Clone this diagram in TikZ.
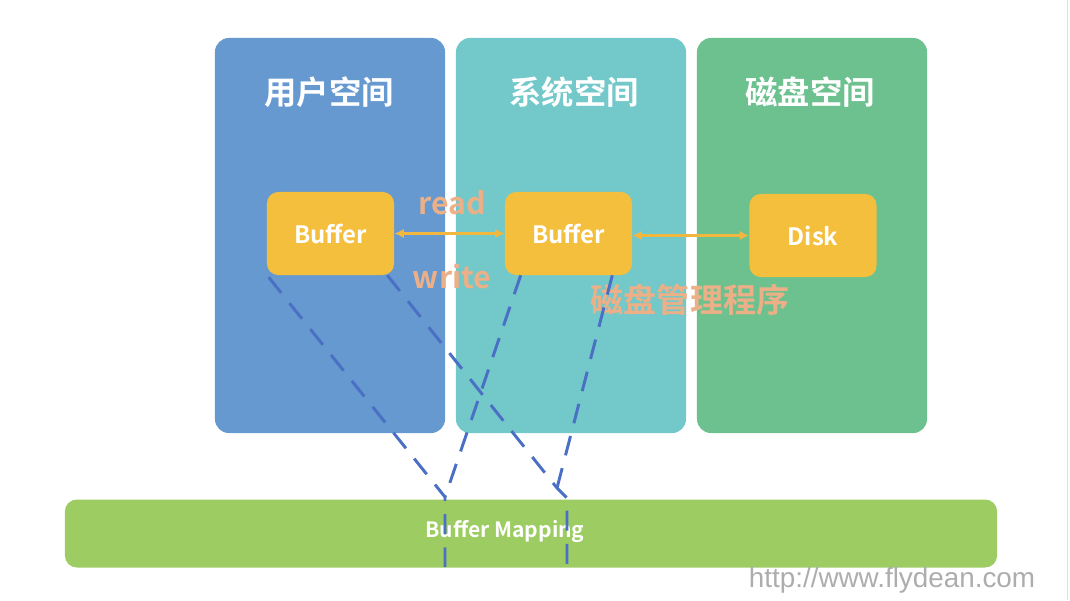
\documentclass[tikz,border=0pt]{standalone}
\usepackage{fontspec}
\usepackage{tikz}
\usetikzlibrary{arrows.meta, positioning, calc}
\newfontfamily\cjk{Noto Sans CJK SC}
\newfontfamily\cjkbold{Noto Sans CJK SC Bold}
\newfontfamily\webfont{Liberation Sans}
\definecolor{userblue}{HTML}{6699D0}
\definecolor{systeal}{HTML}{73C8CA}
\definecolor{diskgreen}{HTML}{6CC18E}
\definecolor{bufyellow}{HTML}{F5BF3E}
\definecolor{arrowyellow}{HTML}{F2B73F}
\definecolor{opsalmon}{HTML}{EBB087}
\definecolor{mapgreen}{HTML}{9CCC62}
\definecolor{dashblue}{HTML}{4A6FC4}

\begin{document}
\begin{tikzpicture}[x=0.025cm, y=-0.025cm, line join=round]
        \useasboundingbox (0, 0) rectangle (1070, 600);
        \tikzset{space/.style={rounded corners=0.35cm, minimum width=5.75cm, minimum height=9.875cm, inner sep=0pt}}
        \tikzset{spacetitle/.style={text=white, font=\cjkbold\fontsize{23}{26}\selectfont}}
        \tikzset{buf/.style={fill=bufyellow, rounded corners=0.28cm, minimum width=3.175cm, minimum height=2.075cm, inner sep=0pt, text=white, font=\cjkbold\fontsize{17}{20}\selectfont}}
        \tikzset{rw/.style={{Latex[length=2.4mm, width=2.4mm]}-{Latex[length=2.4mm, width=2.4mm]}, arrowyellow, line width=1.9pt}}
        \tikzset{op/.style={text=opsalmon, font=\cjkbold\fontsize{21.5}{24}\selectfont}}
        \tikzset{maplink/.style={dashblue, line width=2.1pt, dash pattern=on 0.5cm off 0.33cm}}
        % three spaces
        \node[space, fill=userblue] (user) at (330, 235.5) {};
        \node[space, fill=systeal] (sys) at (571, 235.5) {};
        \node[space, fill=diskgreen] (disk) at (812, 235.5) {};
        \node[spacetitle] (usertitle) at (329, 92) {用户空间};
        \node[spacetitle] (systitle) at (574, 92) {系统空间};
        \node[spacetitle] (disktitle) at (810, 92) {磁盘空间};
        % mapping bar
        \node[fill=mapgreen, rounded corners=0.3cm, minimum width=23.3cm, minimum height=1.7cm, inner sep=0pt] (map) at (531, 533.5) {};
        \node[text=white, font=\cjkbold\fontsize{15}{18}\selectfont] (maptext) at (505, 531) {Buffer Mapping};
        % labels
        \node[op] (read) at (452, 203) {read};
        \node[op] (write) at (452, 276) {write};
        \node[op, font=\cjkbold\fontsize{23.5}{26}\selectfont] (mgr) at (690, 300) {磁盘管理程序};
        % buffers
        \node[buf] (ubuf) at (330.5, 233.5) {Buffer};
        \node[buf] (sbuf) at (568.5, 233.5) {Buffer};
        \node[buf] (dsk) at (813, 235.5) {Disk};
        % mapping lines
        \coordinate (ma) at (445, 497);
        \coordinate (mb) at (557, 488);
        \draw[maplink] ($(ubuf.south west)+(2, 2)$) -- (ma) -- (445, 567);
        \draw[maplink] ($(sbuf.south west)+(16, 0)$) -- (ma);
        \draw[maplink] ($(ubuf.south east)+(-7, 0)$) -- (mb) -- (567, 498) -- (567, 567);
        \draw[maplink] ($(sbuf.south east)+(-20, 0)$) -- (mb);
        % read / write
        \draw[rw] (ubuf) -- (sbuf);
        \draw[rw] (sbuf.east |- dsk) -- (dsk);
        \node[text=black!32, font=\webfont\fontsize{19.8}{22}\selectfont] (url) at (892, 580) {http://www.flydean.com};
        \draw[black!12, line width=0.6pt] (1067, 0) -- (1067, 600);
    \end{tikzpicture}
\end{document}
